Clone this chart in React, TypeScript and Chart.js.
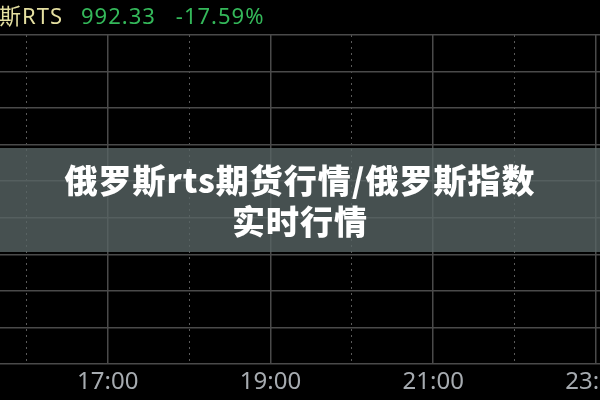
import React, { useEffect, useRef } from "react";
import { Chart, registerables } from "chart.js";

Chart.register(...registerables);

// time axis (hours)
const hourTicks = [16, 17, 18, 19, 20, 21, 22, 23];
const labeledHours = [17, 19, 21, 23];
const xMin = 15.675;
const xMax = 23.05;
// horizontal grid levels
const yLevels = [0, 1, 2, 3, 4, 5, 6, 7, 8, 9];
// header quote
const headerName = "斯RTS";
const headerPrice = "992.33";
const headerChange = "-17.59%";
// overlay title
const titleLines = ["俄罗斯rts期货行情/俄罗斯指数", "实时行情"];
// price series (none visible in the picture)
const priceValues: { x: number; y: number }[] = [];

export default function App() {
  const canvasRef = useRef<HTMLCanvasElement | null>(null);

  useEffect(() => {
    document.body.style.margin = "0";
    const canvas = canvasRef.current;
    if (!canvas) return;
    const chart = new Chart(canvas, {
      type: "line",
      data: {
        datasets: [
          {
            data: priceValues,
            borderColor: "#34b85a",
            pointRadius: 0,
          },
        ],
      },
      options: {
        animation: false,
        responsive: false,
        maintainAspectRatio: false,
        layout: { padding: { top: 35, left: 0, right: 0, bottom: 0 }, autoPadding: false },
        plugins: { legend: { display: false }, tooltip: { enabled: false } },
        scales: {
          x: {
            type: "linear",
            min: xMin,
            max: xMax,
            afterBuildTicks: (axis: any) => {
              axis.ticks = hourTicks.map((v) => ({ value: v }));
            },
            afterFit: (s: any) => {
              s.height = 36;
              s.paddingLeft = 0;
              s.paddingRight = 0;
            },
            ticks: {
              autoSkip: false,
              maxRotation: 0,
              padding: 4,
              color: "#a6abb0",
              font: { family: '"Noto Sans", "Liberation Sans", sans-serif', size: 24 },
              callback: (v: any) => (labeledHours.includes(Number(v)) ? `${v}:00` : ""),
            },
            grid: {
              drawTicks: false,
              color: (ctx: any) =>
                ctx.tick && labeledHours.includes(ctx.tick.value) ? "#4a4a4a" : "#5a5a5a",
              lineWidth: (ctx: any) =>
                ctx.tick && labeledHours.includes(ctx.tick.value) ? 1.5 : 1,
            },
            border: {
              display: false,
              dash: (ctx: any) =>
                ctx.tick && labeledHours.includes(ctx.tick.value) ? [] : [2, 4],
            },
          },
          y: {
            min: 0,
            max: 9,
            afterBuildTicks: (axis: any) => {
              axis.ticks = yLevels.map((v) => ({ value: v }));
            },
            afterFit: (s: any) => {
              s.width = 0;
              s.paddingTop = 0;
              s.paddingBottom = 0;
            },
            ticks: { display: false },
            grid: { drawTicks: false, color: "#4a4a4a", lineWidth: 1.5 },
            border: { display: false },
          },
        },
      },
    } as any);
    return () => chart.destroy();
  }, []);

  return (
    <div
      style={{
        position: "relative",
        width: 600,
        height: 400,
        overflow: "hidden",
        background: "#000",
      }}
    >
      <canvas ref={canvasRef} width={600} height={400} style={{ display: "block" }} />
      <div
        style={{
          position: "absolute",
          top: 0,
          left: -1,
          height: 30,
          lineHeight: "30px",
          fontSize: 22,
          fontFamily: '"Noto Sans", "Noto Sans CJK SC", sans-serif',
          letterSpacing: 1,
          whiteSpace: "nowrap",
        }}
      >
        <span style={{ color: "#e4dfa0" }}>{headerName}</span>
        <span style={{ color: "#34b85a", marginLeft: 18 }}>{headerPrice}</span>
        <span style={{ color: "#34b85a", marginLeft: 20 }}>{headerChange}</span>
      </div>
      <div
        style={{
          position: "absolute",
          left: 0,
          top: 147.5,
          width: 600,
          height: 104.5,
          background: "rgba(88,100,100,0.8)",
          display: "flex",
          flexDirection: "column",
          alignItems: "center",
          justifyContent: "center",
          color: "#fff",
          fontFamily: '"Noto Sans CJK SC", sans-serif',
          fontWeight: 900,
          fontSize: 33,
          lineHeight: "41px",
          letterSpacing: 1,
        }}
      >
        {titleLines.map((t) => (
          <div key={t}>{t}</div>
        ))}
      </div>
    </div>
  );
}
